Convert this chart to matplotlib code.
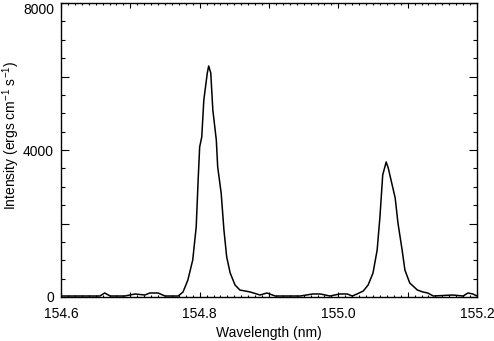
import numpy as np
import matplotlib
matplotlib.use("Agg")
import matplotlib.pyplot as plt
from matplotlib.ticker import FixedLocator, MultipleLocator, FuncFormatter

plt.rcParams["font.family"] = ["Liberation Sans", "DejaVu Sans"]
plt.rcParams["mathtext.fontset"] = "custom"
plt.rcParams["mathtext.rm"] = "Liberation Sans"
plt.rcParams["mathtext.default"] = "regular"

# spectrum (nm, ergs cm-1 s-1)
wavelength = [
    154.600, 154.627, 154.656, 154.663, 154.671, 154.692, 154.707, 154.721,
    154.728, 154.740, 154.750, 154.764, 154.769, 154.776, 154.783, 154.790,
    154.795, 154.798, 154.800, 154.803, 154.806, 154.811, 154.813, 154.816,
    154.819, 154.824, 154.826, 154.831, 154.835, 154.839, 154.844, 154.851,
    154.858, 154.873, 154.887, 154.897, 154.909, 154.945, 154.963, 154.974,
    154.988, 155.002, 155.013, 155.020, 155.027, 155.036, 155.043, 155.050,
    155.056, 155.060, 155.064, 155.069, 155.072, 155.077, 155.082, 155.086,
    155.092, 155.096, 155.103, 155.114, 155.122, 155.129, 155.137, 155.165,
    155.180, 155.187, 155.194, 155.200,
]
intensity = [
    27, 27, 27, 109, 27, 27, 82, 54,
    109, 109, 27, 27, 27, 136, 463, 1007,
    1905, 3265, 4082, 4354, 5360, 6095, 6286, 6095,
    5088, 4272, 3537, 2830, 1823, 1088, 653, 327,
    190, 136, 54, 109, 27, 27, 82, 82,
    27, 82, 82, 27, 82, 163, 327, 653,
    1279, 2177, 3320, 3673, 3510, 3102, 2694, 2014,
    1279, 735, 381, 190, 136, 109, 27, 54,
    27, 109, 82, 27,
]

x_major = [154.6, 154.7, 154.8, 154.9, 155.0, 155.1, 155.2]
x_labels = {154.6: "154.6", 154.8: "154.8", 155.0: "155.0", 155.2: "155.2"}
y_major = [0, 2000, 4000, 6000, 8000]
y_labels = {0: "0", 4000: "4000", 8000: "8000"}

fig = plt.figure(figsize=(4.94, 3.41), dpi=100)
ax = fig.add_axes([61 / 494, 1 - 297 / 341, (477 - 61) / 494, (297 - 3) / 341])

ax.plot(wavelength, intensity, color="black", lw=1.1)

ax.set_xlim(154.6, 155.2)
ax.set_ylim(0, 8000)

ax.xaxis.set_major_locator(FixedLocator(x_major))
ax.xaxis.set_minor_locator(MultipleLocator(0.01))
ax.xaxis.set_major_formatter(FuncFormatter(lambda v, p: x_labels.get(round(v, 1), "")))
ax.yaxis.set_major_locator(FixedLocator(y_major))
ax.yaxis.set_minor_locator(MultipleLocator(500))
ax.yaxis.set_major_formatter(FuncFormatter(lambda v, p: y_labels.get(int(round(v)), "")))

ax.tick_params(axis="both", which="both", direction="in", top=True, right=True,
               labelsize=10, width=0.8, colors="black")
ax.tick_params(axis="x", which="major", length=3.6, pad=7)
ax.tick_params(axis="x", which="minor", length=1.6)
ax.tick_params(axis="y", which="major", length=5.8, pad=5)
ax.tick_params(axis="y", which="minor", length=2.9)

# top label sits just under its tick, as in the original
ax.yaxis.get_major_ticks()[-1].label1.set_va("top")

for s in ax.spines.values():
    s.set_linewidth(1.0)

ax.set_xlabel("Wavelength (nm)", fontsize=10, labelpad=4)
ax.set_ylabel("Intensity (ergs cm$^{-1}$ s$^{-1}$)", fontsize=10)
ax.yaxis.set_label_coords(-0.094, 0.551)

fig.savefig("out.png", dpi=100)
